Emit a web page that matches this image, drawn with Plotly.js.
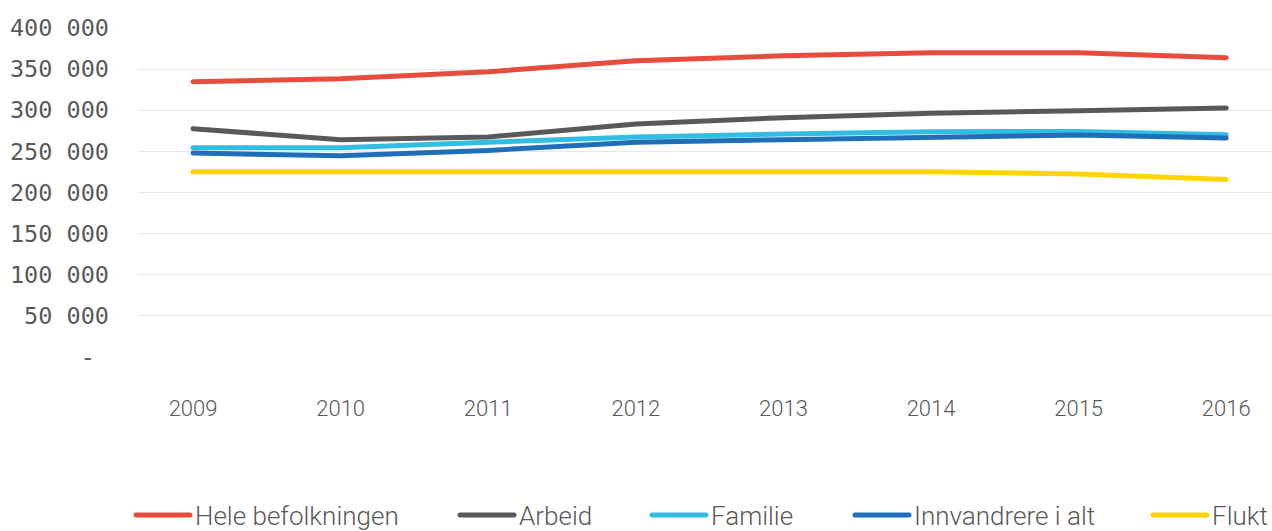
<!DOCTYPE html>
<html>
<head>
<meta charset="utf-8">
<script src="https://cdn.plot.ly/plotly-3.0.1.min.js"></script>
<style>
html,body{margin:0;padding:0;background:#fff;}
#chart{width:1272px;height:531px;}
.scatterlayer .js-line, .legendlines path{stroke-linecap:round;stroke-linejoin:round;}
.legend .scrollbox{clip-path:none !important;}
</style>
</head>
<body>
<div id="chart"></div>
<script>
const years = ["2009","2010","2011","2012","2013","2014","2015","2016"];
const heleBefolkningen = [334700, 338300, 346800, 360200, 366300, 369800, 369800, 363800];
const arbeid = [277600, 264200, 267600, 283400, 291000, 296500, 299500, 302600];
const familie = [254500, 254500, 261000, 267500, 271100, 273900, 274300, 270300];
const innvandrereIAlt = [248000, 244700, 251200, 261000, 264200, 267500, 269900, 266300];
const flukt = [225300, 225300, 225300, 225300, 225300, 225300, 222500, 215800];
const yTickVals = [0, 50000, 100000, 150000, 200000, 250000, 300000, 350000, 400000];
const yTickText = ["-\u00a0", "50 000", "100 000", "150 000", "200 000", "250 000", "300 000", "350 000", "400 000"];

const seriesNames = ["Hele befolkningen", "Arbeid", "Familie", "Innvandrere i alt", "Flukt"];
const seriesValues = [heleBefolkningen, arbeid, familie, innvandrereIAlt, flukt];
const seriesColors = ["#E84C3D", "#595959", "#32BDE3", "#1F6FB8", "#FFD500"];
const legendWidths = [255, 123, 134, 229, 40];

const sansLight = "Roboto, 'Liberation Sans', sans-serif";

const traces = seriesNames.map((n, i) => ({
  type: "scatter",
  mode: "lines",
  name: n,
  x: years,
  y: seriesValues[i],
  line: {color: seriesColors[i], width: 5},
  legendwidth: legendWidths[i],
  hoverinfo: "skip"
}));

const layout = {
  width: 1272,
  height: 531,
  margin: {l: 138, r: 0, t: 28, b: 174, pad: 0, autoexpand: false},
  paper_bgcolor: "#ffffff",
  plot_bgcolor: "#ffffff",
  showlegend: true,
  xaxis: {
    type: "category",
    range: [-0.373, 7.31],
    showgrid: false,
    zeroline: false,
    showline: false,
    ticks: "",
    ticklabelstandoff: 36,
    tickfont: {family: sansLight, size: 22, color: "#595959", weight: 300},
    fixedrange: true
  },
  yaxis: {
    range: [0, 400000],
    tickvals: yTickVals,
    ticktext: yTickText,
    showgrid: true,
    gridcolor: "#E8E8E8",
    gridwidth: 1,
    zeroline: false,
    showline: false,
    ticks: "",
    ticklabelstandoff: 28,
    tickfont: {family: "'DejaVu Sans Mono', monospace", size: 23.5, color: "#595959"},
    fixedrange: true
  },
  legend: {
    orientation: "h",
    xref: "container",
    yref: "container",
    x: 131 / 1272,
    xanchor: "left",
    y: 0.074,
    yanchor: "top",
    itemwidth: 54,
    font: {family: sansLight, size: 26, color: "#595959", weight: 300},
    bgcolor: "rgba(0,0,0,0)"
  }
};

Plotly.newPlot("chart", traces, layout, {staticPlot: true, displayModeBar: false});
</script>
</body>
</html>
